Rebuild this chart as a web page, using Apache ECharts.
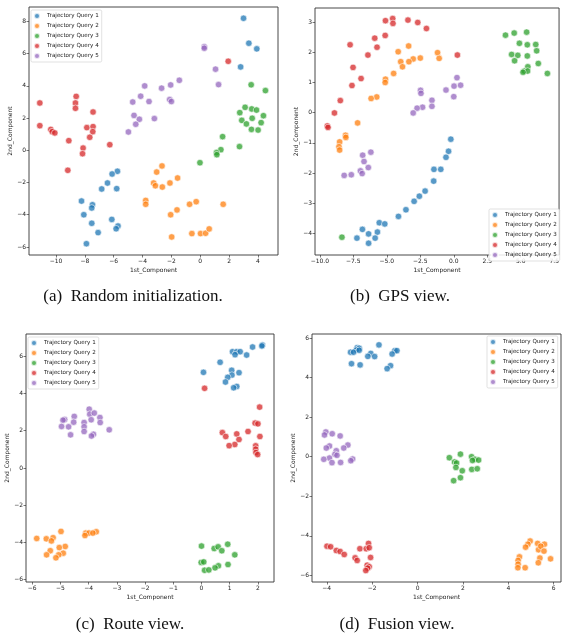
<!DOCTYPE html>
<html>
<head>
<meta charset="utf-8">
<script src="https://cdn.jsdelivr.net/npm/echarts@6/dist/echarts.min.js"></script>
<style>
  html, body { margin: 0; padding: 0; background: #fff; }
  #main { width: 562px; height: 635px; }
</style>
</head>
<body>
<div id="main"></div>
<script>
// series names
const queryNames = ["Trajectory Query 1", "Trajectory Query 2", "Trajectory Query 3", "Trajectory Query 4", "Trajectory Query 5"];
const captions = ["(a)  Random initialization.", "(b)  GPS view.", "(c)  Route view.", "(d)  Fusion view."];

// (a) random initialization
const randQ1 = [[3.0,8.2],[3.37,6.65],[3.92,6.3],[2.8,5.18],[-5.74,-1.3],[-6.11,-1.47],[-6.43,-2.03],[-6.83,-2.4],[-5.79,-2.38],[-8.23,-3.15],[-7.47,-3.38],[-7.52,-3.58],[-8.07,-4.0],[-6.13,-4.29],[-7.52,-4.53],[-5.7,-4.7],[-5.83,-4.87],[-7.08,-5.11],[-7.89,-5.8]];
const randQ2 = [[-2.65,-0.97],[-3.02,-1.35],[-3.23,-2.03],[-3.11,-2.2],[-2.63,-2.28],[-2.1,-2.03],[-1.57,-1.72],[-3.78,-3.11],[-3.78,-3.35],[-2.05,-4.0],[-1.61,-3.7],[-0.74,-3.35],[-0.28,-3.19],[1.59,-3.35],[-1.98,-5.38],[-0.58,-5.17],[0.02,-5.17],[0.37,-5.15],[0.62,-4.88]];
const randQ3 = [[3.53,4.07],[4.52,3.71],[3.11,2.67],[2.74,2.34],[3.57,2.57],[3.9,2.5],[4.38,2.15],[2.88,1.86],[3.6,1.99],[3.2,1.64],[4.22,1.72],[3.55,1.3],[4.01,1.26],[1.55,0.85],[2.72,0.23],[1.43,0.04],[1.13,-0.14],[1.15,-0.27],[-0.02,-0.77]];
const randQ4 = [[1.94,5.53],[-11.12,2.94],[-8.6,3.35],[-8.65,2.94],[-8.65,2.61],[-7.43,2.38],[-11.12,1.53],[-7.86,1.41],[-7.43,1.47],[-10.36,1.3],[-10.26,1.16],[-10.08,1.08],[-7.45,1.16],[-7.66,0.81],[-9.11,0.6],[-8.12,0.14],[-6.27,0.35],[-8.16,-0.21],[-9.18,-1.24]];
const randQ5 = [[0.28,6.43],[0.28,6.34],[1.06,5.04],[1.27,4.08],[-1.45,4.35],[-2.05,4.06],[-2.68,3.86],[-3.85,4.0],[-4.13,3.36],[-3.55,3.03],[-4.68,3.0],[-2.12,3.15],[-2.0,3.03],[-4.59,2.17],[-4.22,1.93],[-3.18,1.97],[-4.47,1.62],[-4.98,1.14]];

// (b) GPS view
const gpsQ1 = [[-0.22,-0.88],[-0.39,-1.28],[-0.58,-1.48],[-1.48,-1.88],[-0.97,-1.88],[-1.5,-2.27],[-2.14,-2.6],[-2.57,-2.77],[-2.96,-2.94],[-3.57,-3.22],[-4.13,-3.44],[-5.56,-3.65],[-5.15,-3.69],[-6.82,-3.87],[-5.7,-3.96],[-6.36,-4.02],[-5.87,-4.16],[-7.23,-4.16],[-6.36,-4.33]];
const gpsQ2 = [[-4.15,2.02],[-3.37,2.21],[-1.21,1.99],[-1.09,1.8],[-2.5,1.81],[-3.03,1.78],[-3.35,1.69],[-3.96,1.69],[-3.83,1.52],[-4.49,1.3],[-5.1,1.11],[-5.12,1.0],[-5.75,0.52],[-6.17,0.47],[-7.18,-0.34],[-8.08,-0.75],[-8.06,-0.82],[-8.52,-0.97],[-8.57,-1.13],[-8.52,-1.24]];
const gpsQ3 = [[3.86,2.57],[4.51,2.64],[5.44,2.67],[4.9,2.3],[5.49,2.25],[6.12,2.26],[6.19,2.05],[4.32,1.93],[4.78,1.9],[5.49,1.88],[4.54,1.72],[6.31,1.63],[5.53,1.52],[5.27,1.38],[5.51,1.38],[5.17,1.34],[6.99,1.3],[-8.35,-4.13]];
const gpsQ4 = [[-4.56,3.12],[-4.54,2.96],[-5.1,3.05],[-3.42,3.07],[-2.69,2.99],[-2.04,2.79],[-5.12,2.56],[-5.9,2.47],[-5.73,2.17],[-7.74,2.25],[-6.41,1.91],[0.27,1.91],[-7.52,1.5],[-6.92,1.13],[-7.6,0.9],[-8.47,0.4],[-8.91,-0.01],[-9.44,-0.44],[-9.39,-0.49]];
const gpsQ5 = [[0.24,1.16],[0.51,0.91],[0.02,0.88],[-0.58,0.75],[0.0,0.53],[-2.48,0.74],[-2.45,0.64],[-1.63,0.41],[-1.63,0.21],[-2.33,0.18],[-2.74,0.15],[-3.03,-0.01],[-6.19,-1.31],[-6.8,-1.41],[-6.7,-1.62],[-6.38,-1.82],[-6.97,-1.93],[-6.84,-2.02],[-7.65,-2.06],[-8.18,-2.08]];

// (c) route view
const routeQ1 = [[2.16,6.61],[2.14,6.56],[1.81,6.5],[1.1,6.25],[1.25,6.25],[1.37,6.25],[1.19,6.09],[1.6,6.07],[0.66,5.68],[0.07,5.14],[1.07,5.25],[1.33,5.12],[1.08,4.99],[0.93,4.87],[0.85,4.62],[1.25,4.38],[1.14,4.31]];
const routeQ2 = [[-4.98,-3.41],[-3.73,-3.43],[-4.1,-3.5],[-3.99,-3.5],[-3.85,-3.5],[-4.13,-3.63],[-5.84,-3.79],[-5.5,-3.81],[-5.26,-3.75],[-5.32,-3.92],[-4.83,-4.22],[-5.04,-4.28],[-5.36,-4.45],[-4.9,-4.58],[-5.49,-4.67],[-5.06,-4.67],[-5.16,-4.83]];
const routeQ3 = [[0.0,-4.2],[0.93,-4.1],[0.45,-4.33],[0.59,-4.24],[0.72,-4.45],[1.18,-4.67],[-0.01,-5.08],[0.08,-5.05],[0.94,-5.19],[0.6,-5.26],[0.48,-5.37],[0.11,-5.5],[0.26,-5.48]];
const routeQ4 = [[0.11,4.28],[2.06,3.27],[1.9,2.41],[2.0,2.37],[1.65,1.96],[0.74,1.9],[1.25,1.83],[0.86,1.69],[2.07,1.69],[1.33,1.53],[1.18,1.26],[0.98,1.2],[1.92,1.19],[1.92,1.01],[1.93,0.83],[1.99,0.72]];
const routeQ5 = [[-3.98,3.16],[-3.96,2.89],[-3.8,2.95],[-4.51,2.77],[-3.6,2.71],[-4.85,2.6],[-4.91,2.57],[-3.91,2.59],[-4.53,2.46],[-4.16,2.44],[-3.59,2.44],[-4.96,2.23],[-4.71,2.21],[-4.16,2.21],[-3.27,2.05],[-4.16,1.96],[-4.64,1.78],[-3.83,1.81],[-3.9,1.72]];

// (d) fusion view
const fusionQ1 = [[-1.7,5.65],[-2.66,5.51],[-2.57,5.48],[-2.7,5.39],[-2.95,5.28],[-2.82,5.28],[-2.57,5.38],[-2.06,5.22],[-2.19,5.07],[-1.89,5.06],[-1.0,5.36],[-0.91,5.36],[-1.12,5.19],[-2.91,4.7],[-2.53,4.64],[-1.19,4.6],[-1.34,4.45]];
const fusionQ2 = [[4.96,-4.26],[5.29,-4.38],[5.59,-4.42],[4.86,-4.42],[4.76,-4.57],[5.33,-4.7],[5.43,-4.52],[5.57,-4.77],[4.49,-5.06],[5.39,-5.12],[5.86,-5.16],[4.43,-5.24],[5.32,-5.36],[4.43,-5.43],[4.42,-5.61],[4.74,-5.61]];
const fusionQ3 = [[1.89,0.13],[1.4,-0.05],[2.38,0.0],[2.53,-0.13],[2.42,-0.19],[2.69,-0.17],[1.63,-0.27],[1.72,-0.32],[1.69,-0.54],[1.97,-0.71],[2.39,-0.64],[2.63,-0.61],[1.89,-1.06],[1.59,-1.21]];
const fusionQ4 = [[-3.99,-4.52],[-3.83,-4.55],[-3.58,-4.74],[-3.41,-4.79],[-3.23,-4.94],[-2.16,-4.38],[-2.54,-4.65],[-2.26,-4.65],[-2.13,-4.6],[-2.75,-5.11],[-2.66,-5.24],[-2.07,-5.09],[-2.22,-5.48],[-2.13,-5.56],[-2.2,-5.63],[-2.28,-5.75]];
const fusionQ5 = [[-4.04,1.25],[-4.1,1.1],[-3.76,1.16],[-3.41,1.05],[-3.07,0.59],[-3.88,0.54],[-4.02,0.44],[-3.25,0.44],[-3.58,0.3],[-3.64,0.12],[-3.55,0.07],[-3.88,-0.07],[-4.13,-0.13],[-2.86,-0.12],[-2.94,-0.2],[-3.77,-0.3],[-3.39,-0.29]];

// tick labels per panel
const randXTicks = [-10, -8, -6, -4, -2, 0, 2, 4];
const randYTicks = [-6, -4, -2, 0, 2, 4, 6, 8];
const gpsXTicks = [-10, -7.5, -5, -2.5, 0, 2.5, 5, 7.5];
const gpsYTicks = [-4, -3, -2, -1, 0, 1, 2, 3];
const routeXTicks = [-6, -5, -4, -3, -2, -1, 0, 1, 2];
const routeYTicks = [-6, -4, -2, 0, 2, 4, 6];
const fusionXTicks = [-4, -2, 0, 2, 4, 6];
const fusionYTicks = [-6, -4, -2, 0, 2, 4, 6];

const colors = ["#1f77b4", "#ff7f0e", "#2ca02c", "#d62728", "#9467bd"];

const panels = [
  { data: [randQ1, randQ2, randQ3, randQ4, randQ5], xt: randXTicks, yt: randYTicks,
    box: [29, 7, 249, 248], xr: [-11.87, 5.39], yr: [-6.5, 8.9], digits: 0,
    legend: { left: 31, top: 10 } },
  { data: [gpsQ1, gpsQ2, gpsQ3, gpsQ4, gpsQ5], xt: gpsXTicks, yt: gpsYTicks,
    box: [315, 8, 251, 247], xr: [-10.36, 7.86], yr: [-4.72, 3.47], digits: 1,
    legend: { left: 489, top: 209 } },
  { data: [routeQ1, routeQ2, routeQ3, routeQ4, routeQ5], xt: routeXTicks, yt: routeYTicks,
    box: [26, 334, 248, 248], xr: [-6.22, 2.57], yr: [-6.13, 7.2], digits: 0,
    legend: { left: 28, top: 337 } },
  { data: [fusionQ1, fusionQ2, fusionQ3, fusionQ4, fusionQ5], xt: fusionXTicks, yt: fusionYTicks,
    box: [312, 334, 249, 248], xr: [-4.65, 6.32], yr: [-6.33, 6.2], digits: 0,
    legend: { left: 487, top: 336 } }
];

const minus = (v, d) => (d ? v.toFixed(d) : String(v)).replace("-", "\u2212");
const tickFont = { fontFamily: "DejaVu Sans", fontSize: 6, color: "#222" };

const grid = [], xAxis = [], yAxis = [], series = [], legend = [], title = [];

panels.forEach((p, i) => {
  const [l, t, w, h] = p.box;
  grid.push({ left: l, top: t, width: w, height: h, show: true, borderColor: "#333", borderWidth: 0.9 });
  xAxis.push({
    type: "value", gridIndex: i, min: p.xr[0], max: p.xr[1],
    name: "1st_Component", nameLocation: "middle", nameGap: 12,
    nameTextStyle: { fontFamily: "DejaVu Sans", fontSize: 6, color: "#222" },
    axisLine: { show: false, onZero: false }, splitLine: { show: false },
    axisTick: { show: true, length: 2.5, customValues: p.xt, lineStyle: { color: "#222", width: 0.6 } },
    axisLabel: { ...tickFont, margin: 3, customValues: p.xt, formatter: v => minus(v, p.digits) }
  });
  yAxis.push({
    type: "value", gridIndex: i, min: p.yr[0], max: p.yr[1],
    name: "2nd_Component", nameLocation: "middle", nameGap: 15, nameRotate: 90,
    nameTextStyle: { fontFamily: "DejaVu Sans", fontSize: 6, color: "#222" },
    axisLine: { show: false, onZero: false }, splitLine: { show: false },
    axisTick: { show: true, length: 2.5, customValues: p.yt, lineStyle: { color: "#222", width: 0.6 } },
    axisLabel: { ...tickFont, margin: 3, customValues: p.yt, formatter: v => minus(v, 0) }
  });
  p.data.forEach((pts, q) => {
    series.push({
      type: "scatter", name: queryNames[q], xAxisIndex: i, yAxisIndex: i,
      data: pts, symbolSize: 6.5,
      itemStyle: { color: colors[q], opacity: 0.75, borderColor: "#fff", borderWidth: 0.8 }
    });
  });
  legend.push({
    data: queryNames, orient: "vertical", left: p.legend.left, top: p.legend.top,
    icon: "circle", itemWidth: 10, itemHeight: 6, itemGap: 2,
    padding: [2, 3, 2, 2], backgroundColor: "rgba(255,255,255,0.85)",
    borderColor: "#ccc", borderWidth: 0.6, borderRadius: 1.5,
    selectedMode: false,
    textStyle: { fontFamily: "DejaVu Sans", fontSize: 5.6, color: "#222", padding: [0, 0, 0, 0] }
  });
});

// captions under each panel
const capPos = [[128, 283], [395, 283], [125, 611], [392, 611]];
captions.forEach((c, i) => {
  title.push({
    text: c, left: capPos[i][0], top: capPos[i][1], textAlign: "center",
    textStyle: { fontFamily: "Liberation Serif", fontSize: 17, fontWeight: "normal", color: "#111" }
  });
});

const chart = echarts.init(document.getElementById("main"), null, { renderer: "canvas" });
chart.setOption({
  backgroundColor: "#fff",
  animation: false,
  color: colors,
  title, grid, xAxis, yAxis, legend, series
});
</script>
</body>
</html>
